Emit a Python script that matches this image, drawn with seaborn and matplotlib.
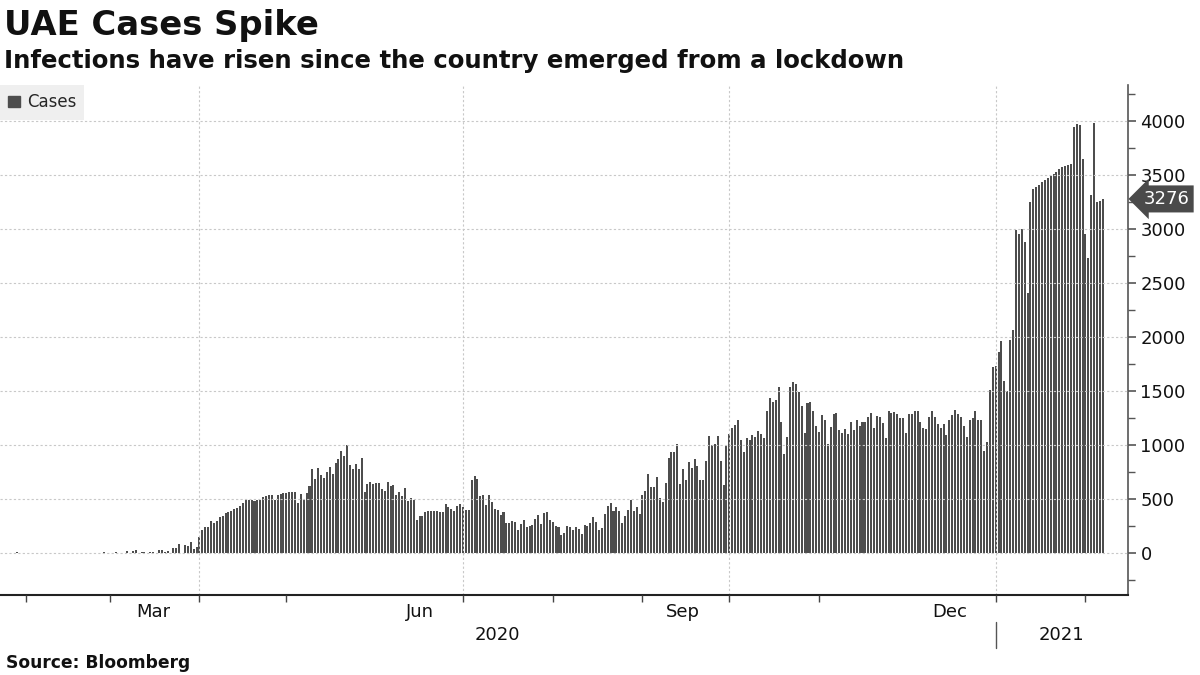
import matplotlib
matplotlib.use("Agg")
import matplotlib.pyplot as plt
import matplotlib.dates as mdates
import matplotlib.transforms as mtransforms
from matplotlib.patches import Patch
import numpy as np
import pandas as pd
import seaborn as sns

# daily new cases (first case 29 Jan 2020)
jan_2020 = [4, 0, 1]
feb_2020 = [0, 0, 0, 0, 0, 0, 0, 2, 1, 1, 0, 0, 0, 0, 1, 0, 0, 0, 0, 0,
            0, 0, 0, 0, 0, 0, 0, 6, 0]
mar_2020 = [2, 0, 6, 0, 1, 2, 20, 0, 15, 28, 0, 12, 5, 0, 10, 12, 0, 28, 28, 12,
            13, 0, 46, 46, 83, 0, 74, 62, 102, 37, 56]
apr_2020 = [148, 213, 241, 241, 297, 281, 294, 334, 337, 371, 380, 392, 402, 417, 436,
            463, 485, 485, 488, 482, 485, 485, 519, 528, 538, 538, 494, 538, 547, 556]
may_2020 = [556, 565, 565, 565, 463, 547, 500, 556, 621, 779, 686, 788, 723, 695, 751,
            797, 732, 834, 871, 946, 899, 995, 816, 779, 825, 779, 881, 565, 640, 658, 640]
jun_2020 = [650, 646, 593, 572, 655, 621, 630, 538, 565, 528, 603, 482, 510, 491, 306,
            343, 343, 380, 389, 389, 389, 389, 380, 380, 454, 426, 408, 389, 436, 454]
jul_2020 = [426, 399, 399, 677, 714, 686, 528, 538, 445, 538, 473, 408, 399, 352, 380,
            278, 278, 297, 287, 213, 269, 306, 241, 250, 260, 315, 352, 269, 371, 380, 306]
aug_2020 = [287, 250, 241, 167, 185, 250, 241, 213, 241, 222, 176, 260, 250, 278, 334,
            287, 213, 232, 362, 436, 463, 389, 426, 389, 278, 343, 399, 491, 389, 426, 362]
sep_2020 = [538, 575, 732, 612, 612, 705, 510, 473, 649, 881, 936, 936, 1010, 640, 779,
            677, 844, 788, 871, 806, 677, 677, 853, 1085, 1001, 1010, 1085, 853, 630, 1001]
oct_2020 = [1103, 1159, 1187, 1233, 1048, 936, 1066, 1048, 1094, 1075, 1131, 1103, 1066,
            1316, 1437, 1400, 1418, 1539, 1214, 918, 1075, 1539, 1585, 1567, 1492, 1363,
            1112, 1391, 1400, 1316, 1177]
nov_2020 = [1122, 1279, 1233, 1010, 1168, 1289, 1298, 1140, 1112, 1149, 1103, 1214, 1140,
            1233, 1177, 1214, 1214, 1261, 1298, 1159, 1270, 1261, 1205, 1066, 1316, 1298,
            1307, 1289, 1251, 1251]
dec_2020 = [1112, 1289, 1289, 1316, 1316, 1214, 1159, 1149, 1261, 1316, 1261, 1196, 1159,
            1196, 1094, 1233, 1279, 1326, 1289, 1261, 1177, 1075, 1233, 1251, 1316, 1233,
            1233, 946, 1029, 1510, 1722]
jan_2021 = [1731, 1861, 1963, 1592, 1500, 1972, 2065, 2990, 2953, 3000, 2879, 2407, 3250,
            3370, 3388, 3407, 3435, 3453, 3472, 3490, 3509, 3527, 3555, 3574, 3583, 3592,
            3601, 3944, 3972, 3962, 3648]
feb_2021 = [2953, 2731, 3314, 3981, 3250, 3259, 3276]

cases = (jan_2020 + feb_2020 + mar_2020 + apr_2020 + may_2020 + jun_2020 + jul_2020
         + aug_2020 + sep_2020 + oct_2020 + nov_2020 + dec_2020 + jan_2021 + feb_2021)
dates = pd.date_range("2020-01-29", periods=len(cases), freq="D")

month_labels = ["Mar", "Jun", "Sep", "Dec"]
year_labels = ["2020", "2021"]

df = pd.DataFrame({"day": mdates.date2num(dates), "cases": cases})

bar_color = "#4d4d4d"
grid_color = "#c8c8c8"

sns.set_style("white")
plt.rcParams["font.family"] = ["DejaVu Sans"]

fig = plt.figure(figsize=(12, 6.75), dpi=100)
ax = fig.add_axes([0.0, 0.1185, 0.94, 0.7555])

sns.barplot(data=df, x="day", y="cases", native_scale=True, color=bar_color,
            saturation=1, width=0.7, errorbar=None, linewidth=0, ax=ax)

jan1 = mdates.date2num(pd.Timestamp("2021-01-01"))
ax.set_xlim(jan1 - 343.9, jan1 + 45.7)
ax.set_ylim(-390, 4330)
ax.set_xlabel("")
ax.set_ylabel("")

# x axis: ticks at month starts (not under Jun / Dec), labels mid-month
month_starts = pd.date_range("2020-02-01", "2021-02-01", freq="MS")
month_starts = month_starts[~month_starts.month.isin([6, 12])]
ax.set_xticks(mdates.date2num(month_starts))
ax.set_xticklabels([])
mid = pd.to_datetime(["2020-03-16", "2020-06-16", "2020-09-15", "2020-12-16"])
ax.set_xticks(mdates.date2num(mid), minor=True)
ax.set_xticklabels(month_labels, minor=True)
ax.tick_params(axis="x", which="major", direction="out", length=5, width=1,
               color="#444444", bottom=True)
ax.tick_params(axis="x", which="minor", length=0, pad=6, labelsize=13,
               labelcolor="#111111", bottom=True)

# y axis on the right
ax.yaxis.tick_right()
ax.set_yticks(np.arange(0, 4001, 500))
ax.set_yticks(np.arange(-250, 4300, 500), minor=True)
ax.tick_params(axis="y", which="major", direction="out", length=6, width=1.2,
               color="#555555", labelsize=13, pad=3, labelcolor="#111111",
               right=True, left=False)
ax.tick_params(axis="y", which="minor", direction="out", length=5, width=1,
               color="#555555", right=True, left=False)

# grid drawn over the bars
ax.set_axisbelow(False)
ax.yaxis.grid(True, which="major", color=grid_color, linestyle=(0, (2, 2)), linewidth=0.8)
ax.xaxis.grid(False)
for q in ["2020-04-01", "2020-07-01", "2020-10-01", "2021-01-01"]:
    ax.axvline(mdates.date2num(pd.Timestamp(q)), color=grid_color,
               linestyle=(0, (2, 2)), linewidth=0.8)

for side in ["left", "top"]:
    ax.spines[side].set_visible(False)
ax.spines["bottom"].set_color("#222222")
ax.spines["bottom"].set_linewidth(1.5)
ax.spines["right"].set_color("#555555")
ax.spines["right"].set_linewidth(1.2)

# year labels under the month labels
trans = mtransforms.blended_transform_factory(ax.transData, ax.transAxes)
x0, x1 = ax.get_xlim()
ax.text((x0 + jan1) / 2, -0.078, year_labels[0], transform=trans, ha="center",
        va="center", fontsize=13, color="#111111")
ax.text((jan1 + x1) / 2, -0.078, year_labels[1], transform=trans, ha="center",
        va="center", fontsize=13, color="#111111")
ax.plot([jan1, jan1], [-0.053, -0.104], transform=trans, clip_on=False,
        color="#555555", linewidth=1)

# last value tag
ax.annotate(f"{cases[-1]}", xy=(1.0, cases[-1]), xycoords=("axes fraction", "data"),
            xytext=(11, 0), textcoords="offset points", ha="left", va="center",
            color="white", fontsize=13,
            bbox=dict(boxstyle="larrow,pad=0.25", fc="#4a4a4a", ec="none"))

ax.legend(handles=[Patch(color=bar_color, label="Cases")], loc="upper left",
          bbox_to_anchor=(0, 1), frameon=True, facecolor="#efefef", edgecolor="none",
          framealpha=1, fancybox=False, handlelength=0.7, handleheight=0.7,
          handletextpad=0.4, borderpad=0.5, borderaxespad=0, fontsize=12)

fig.text(0.003, 1 - 35 / 675, "UAE Cases Spike", fontsize=24.3, fontweight="bold",
         va="baseline", ha="left", color="#111111")
fig.text(0.003, 1 - 68 / 675, "Infections have risen since the country emerged from a lockdown",
         fontsize=17.6, fontweight="bold", va="baseline", ha="left", color="#111111")
fig.text(0.005, 1 - 668 / 675, "Source: Bloomberg", fontsize=12.3, fontweight="bold",
         va="baseline", ha="left", color="#111111")

fig.savefig("out.png", dpi=100)
